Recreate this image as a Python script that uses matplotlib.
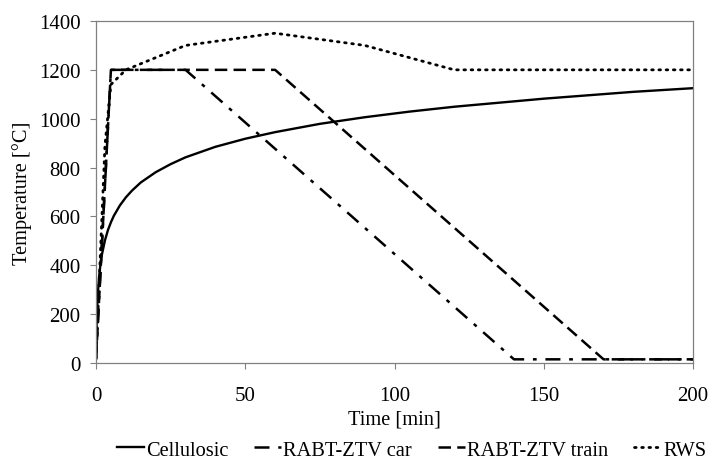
import matplotlib.pyplot as plt

plt.rcParams["font.family"] = ["Liberation Serif", "DejaVu Serif"]

# Fire curves, values
cell_t = [0, 0.25, 0.5, 1, 1.5, 2, 3, 4, 5, 6, 8, 10, 12, 15, 20, 25, 30, 40, 50, 60,
          75, 90, 105, 120, 150, 180, 200]
cell_temp = [20, 195, 261, 349, 404, 445, 502, 544, 576, 603, 645, 678, 705, 739, 781,
             814, 842, 885, 918, 945, 979, 1006, 1029, 1049, 1082, 1110, 1125]

car_t = [0, 5, 30, 140, 200]
car_temp = [15, 1200, 1200, 15, 15]

train_t = [0, 5, 60, 170, 200]
train_temp = [15, 1200, 1200, 15, 15]

rws_t = [0, 3, 5, 10, 30, 60, 90, 120, 180, 200]
rws_temp = [20, 890, 1140, 1200, 1300, 1350, 1300, 1200, 1200, 1200]

GRAY = "#808080"
TICK_FS = 15
LABEL_FS = 14.7

fig = plt.figure(figsize=(7.1, 4.6), dpi=100)
ax = fig.add_axes([0.1352, 0.2087, 0.841, 0.7435])

ax.plot(cell_t, cell_temp, color="black", linewidth=1.7, label="Cellulosic")
ax.plot(car_t, car_temp, color="black", linewidth=1.8,
        dashes=(6, 3.5, 1.5, 3.5), label="RABT-ZTV car")
ax.plot(train_t, train_temp, color="black", linewidth=1.8,
        dashes=(5, 2.5), label="RABT-ZTV train")
ax.plot(rws_t, rws_temp, color="black", linewidth=2.0,
        linestyle=(0, (0.6, 2.0)), dash_capstyle="round", label="RWS")

ax.set_xlim(0, 200)
ax.set_ylim(0, 1400)
ax.set_xticks([0, 50, 100, 150, 200])
ax.set_yticks(range(0, 1401, 200))
ax.tick_params(direction="out", length=4.5, color=GRAY, labelsize=TICK_FS)
ax.tick_params(axis="x", pad=12)
ax.tick_params(axis="y", pad=6.5)
for spine in ax.spines.values():
    spine.set_color(GRAY)
    spine.set_linewidth(0.9)

ax.set_xlabel("Time [min]", fontsize=LABEL_FS, labelpad=3)
ax.set_ylabel("Temperature [°C]", fontsize=LABEL_FS, labelpad=5)

ax.legend(loc="upper left", bbox_to_anchor=(0.035, -0.226), ncol=4,
          frameon=False, fontsize=LABEL_FS, handlelength=1.32, handletextpad=0.1,
          columnspacing=1.27, borderaxespad=0, borderpad=0)

fig.savefig("out.png", dpi=100)
